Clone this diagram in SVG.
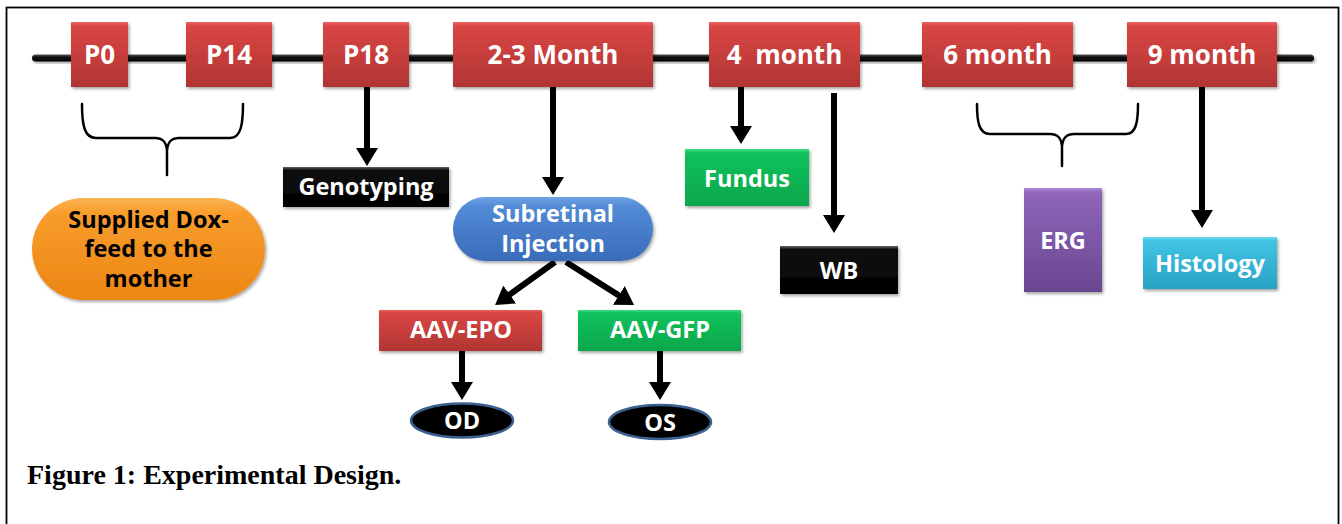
<svg xmlns="http://www.w3.org/2000/svg" width="1342" height="524" viewBox="0 0 1342 524">
<defs>
<style>
.lbl{font-family:"Open Sans","Liberation Sans",sans-serif;font-weight:bold;fill:#fff;text-anchor:middle}
.tl{font-size:26px}
.nd{font-size:23.5px}
.dk{fill:#000}
.con{stroke:#000;stroke-width:6;fill:none}
.brace{stroke:#000;stroke-width:2.5;fill:none;stroke-linecap:round}
.cap{font-family:"Liberation Serif","Times New Roman",serif;font-weight:bold;font-size:28px;fill:#000}
</style>
<linearGradient id="gRed" x1="0" y1="0" x2="0" y2="1"><stop offset="0" stop-color="#ea6462"/><stop offset="0.06" stop-color="#d94644"/><stop offset="1" stop-color="#b13532"/></linearGradient>
<linearGradient id="gGreen" x1="0" y1="0" x2="0" y2="1"><stop offset="0" stop-color="#3ee083"/><stop offset="0.07" stop-color="#12c25c"/><stop offset="1" stop-color="#0aa64b"/></linearGradient>
<linearGradient id="gBlack" x1="0" y1="0" x2="0" y2="1"><stop offset="0" stop-color="#666"/><stop offset="0.07" stop-color="#111"/><stop offset="1" stop-color="#000"/></linearGradient>
<linearGradient id="gBlue" x1="0" y1="0" x2="0" y2="1"><stop offset="0" stop-color="#6fa2e2"/><stop offset="0.15" stop-color="#528bd6"/><stop offset="1" stop-color="#3a6bb8"/></linearGradient>
<linearGradient id="gOrange" x1="0" y1="0" x2="0" y2="1"><stop offset="0" stop-color="#fab452"/><stop offset="0.15" stop-color="#f89c2c"/><stop offset="1" stop-color="#ec8614"/></linearGradient>
<linearGradient id="gPurple" x1="0" y1="0" x2="0" y2="1"><stop offset="0" stop-color="#b08ad6"/><stop offset="0.04" stop-color="#8f66ba"/><stop offset="1" stop-color="#694690"/></linearGradient>
<linearGradient id="gCyan" x1="0" y1="0" x2="0" y2="1"><stop offset="0" stop-color="#6ad8f0"/><stop offset="0.07" stop-color="#40c4e4"/><stop offset="1" stop-color="#2aa2c4"/></linearGradient>
<linearGradient id="gLine" x1="0" y1="0" x2="0" y2="1"><stop offset="0" stop-color="#555"/><stop offset="0.4" stop-color="#111"/><stop offset="1" stop-color="#000"/></linearGradient>
<filter id="sh" x="-10%" y="-10%" width="125%" height="135%"><feDropShadow dx="1.5" dy="2" stdDeviation="1.5" flood-color="#000" flood-opacity="0.35"/></filter>
<marker id="ah" viewBox="0 0 18 22" refX="6" refY="11" markerWidth="18" markerHeight="22" markerUnits="userSpaceOnUse" orient="auto"><path d="M0,0 L18,11 L0,22 z" fill="#000"/></marker>
</defs>
<rect x="0" y="0" width="1342" height="524" fill="#fff"/>
<rect x="6.5" y="7.5" width="1332" height="540" fill="none" stroke="#000" stroke-width="1.8"/>

<g id="timeline">
<rect x="32" y="54.5" width="1282" height="7" rx="3.5" fill="url(#gLine)" filter="url(#sh)"/>
</g>

<g id="connectors">
<line class="con" x1="367" y1="87" x2="367" y2="154" marker-end="url(#ah)"/>
<line class="con" x1="553" y1="87" x2="553" y2="183" marker-end="url(#ah)"/>
<line class="con" x1="741" y1="87" x2="741" y2="132" marker-end="url(#ah)"/>
<line class="con" x1="834" y1="93" x2="834" y2="221" marker-end="url(#ah)"/>
<line class="con" x1="1202" y1="87" x2="1202" y2="216" marker-end="url(#ah)"/>
<line class="con" x1="555" y1="262" x2="504.8" y2="298" marker-end="url(#ah)"/>
<line class="con" x1="566" y1="262" x2="623.9" y2="298.6" marker-end="url(#ah)"/>
<line class="con" x1="462" y1="351" x2="462" y2="388" marker-end="url(#ah)"/>
<line class="con" x1="660" y1="351" x2="660" y2="388" marker-end="url(#ah)"/>
<path class="brace" d="M82,104 C82,124 84,138 96,138 L155,138 C163,138 166,142 167,150 L167,175 M167,150 C168,142 171,138 179,138 L230,138 C241,138 243,124 243,104"/>
<path class="brace" d="M977,104 C977,122 979,134 990,134 L1050,134 C1058,134 1061,138 1062,146 L1062,166 M1062,146 C1063,138 1066,134 1074,134 L1126,134 C1136,134 1138,122 1138,104"/>
</g>

<g id="p0"><rect x="71" y="22" width="57" height="65" fill="url(#gRed)" filter="url(#sh)"/><text class="lbl tl" x="99.5" y="64">P0</text></g>
<g id="p14"><rect x="186" y="22" width="86" height="65" fill="url(#gRed)" filter="url(#sh)"/><text class="lbl tl" x="229" y="64">P14</text></g>
<g id="p18"><rect x="323" y="22" width="86" height="65" fill="url(#gRed)" filter="url(#sh)"/><text class="lbl tl" x="366" y="64">P18</text></g>
<g id="m23"><rect x="453" y="22" width="200" height="65" fill="url(#gRed)" filter="url(#sh)"/><text class="lbl tl" x="553" y="64">2-3 Month</text></g>
<g id="m4"><rect x="709" y="22" width="151" height="65" fill="url(#gRed)" filter="url(#sh)"/><text class="lbl tl" x="784.5" y="64" xml:space="preserve">4  month</text></g>
<g id="m6"><rect x="922" y="22" width="151" height="65" fill="url(#gRed)" filter="url(#sh)"/><text class="lbl tl" x="997.5" y="64">6 month</text></g>
<g id="m9"><rect x="1127" y="22" width="150" height="65" fill="url(#gRed)" filter="url(#sh)"/><text class="lbl tl" x="1202" y="64">9 month</text></g>

<g id="dox"><rect x="32" y="198" width="233" height="102" rx="51" fill="url(#gOrange)" filter="url(#sh)"/>
<text class="lbl nd dk" x="148.5" y="228">Supplied Dox-</text>
<text class="lbl nd dk" x="148.5" y="257">feed to the</text>
<text class="lbl nd dk" x="148.5" y="287">mother</text></g>
<g id="genotyping"><rect x="283" y="167" width="166" height="40" fill="url(#gBlack)" filter="url(#sh)"/><text class="lbl nd" x="366" y="195">Genotyping</text></g>
<g id="subretinal"><rect x="453" y="197" width="200" height="64" rx="32" fill="url(#gBlue)" filter="url(#sh)"/>
<text class="lbl nd" x="553" y="222">Subretinal</text>
<text class="lbl nd" x="553" y="252">Injection</text></g>
<g id="aavepo"><rect x="379" y="310" width="163" height="41" fill="url(#gRed)" filter="url(#sh)"/><text class="lbl nd" x="461" y="338">AAV-EPO</text></g>
<g id="aavgfp"><rect x="578" y="310" width="163" height="41" fill="url(#gGreen)" filter="url(#sh)"/><text class="lbl nd" x="660" y="338">AAV-GFP</text></g>
<g id="od"><ellipse cx="462" cy="420.5" rx="51" ry="17" fill="#000" stroke="#3b5f8e" stroke-width="2.5"/><text class="lbl nd" x="462" y="429">OD</text></g>
<g id="os"><ellipse cx="660" cy="422" rx="51" ry="17" fill="#000" stroke="#3b5f8e" stroke-width="2.5"/><text class="lbl nd" x="660" y="430.5">OS</text></g>
<g id="fundus"><rect x="685" y="149" width="124" height="57" fill="url(#gGreen)" filter="url(#sh)"/><text class="lbl nd" x="747" y="187">Fundus</text></g>
<g id="wb"><rect x="780" y="246" width="118" height="48" fill="url(#gBlack)" filter="url(#sh)"/><text class="lbl nd" x="839" y="278.5">WB</text></g>
<g id="erg"><rect x="1024" y="188" width="78" height="104" fill="url(#gPurple)" filter="url(#sh)"/><text class="lbl nd" x="1063" y="248.5">ERG</text></g>
<g id="histology"><rect x="1143" y="237" width="134" height="52" fill="url(#gCyan)" filter="url(#sh)"/><text class="lbl nd" x="1210" y="272">Histology</text></g>

<text class="cap" x="27" y="484">Figure 1: Experimental Design.</text>
</svg>
